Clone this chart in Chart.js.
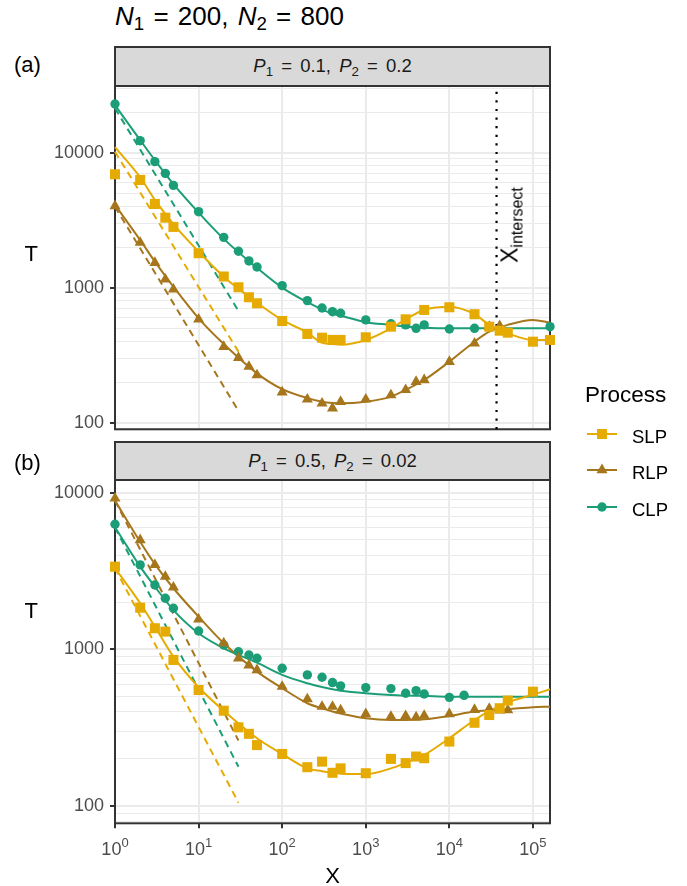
<!DOCTYPE html>
<html>
<head>
<meta charset="utf-8">
<script src="https://cdn.jsdelivr.net/npm/chart.js@4.4.1/dist/chart.umd.min.js"></script>
<style>
html,body{margin:0;padding:0;background:#fff;}
body{position:relative;width:687px;height:886px;overflow:hidden;font-family:"Liberation Sans",Arial,Helvetica,sans-serif;color:#000;}
.t{position:absolute;white-space:nowrap;line-height:1;}
.t sub{font-size:0.72em;vertical-align:-0.28em;line-height:0;}
.strip{position:absolute;left:114px;width:437px;box-sizing:border-box;border:2px solid #333;background:#D9D9D9;display:flex;align-items:center;justify-content:center;font-size:18.5px;color:#1A1A1A;line-height:1;white-space:nowrap;word-spacing:3px;}
.strip sub{font-size:0.72em;vertical-align:-0.28em;line-height:0;}
.cw{position:absolute;left:0;width:687px;}
.xt{position:absolute;top:840px;transform:translateX(-50%);font-size:18px;color:#4D4D4D;line-height:1;white-space:nowrap;}
.xt sup{font-size:13px;vertical-align:8px;line-height:0;}
.key{position:absolute;left:586px;}
.lab{position:absolute;left:632px;font-size:18.5px;line-height:1;}
</style>
</head>
<body>
<div class="cw" style="top:80px;height:360px;"><canvas id="cA" width="687" height="360"></canvas></div>
<div class="cw" style="top:470px;height:416px;"><canvas id="cB" width="687" height="416"></canvas></div>

<div class="t" style="left:115px;top:2.5px;font-size:26px;word-spacing:2px;"><i>N</i><sub>1</sub> = 200, <i>N</i><sub>2</sub> = 800</div>
<div class="t" style="left:14px;top:54px;font-size:22px;">(a)</div>
<div class="t" style="left:14px;top:452px;font-size:22px;">(b)</div>
<div class="strip" style="top:46px;height:41px;"><span><i>P</i><sub>1</sub> = 0.1, <i>P</i><sub>2</sub> = 0.2</span></div>
<div class="strip" style="top:441px;height:40px;"><span><i>P</i><sub>1</sub> = 0.5, <i>P</i><sub>2</sub> = 0.02</span></div>
<div class="t" style="left:24.5px;top:243px;font-size:22px;">T</div>
<div class="t" style="left:24.5px;top:600px;font-size:22px;">T</div>
<div class="t" style="left:332.5px;top:865.4px;font-size:22px;transform:translateX(-50%);">X</div>
<div class="t" id="xint" style="left:510.4px;top:224.5px;font-size:23px;transform:translate(-50%,-50%) rotate(-90deg);">X<sub style="font-size:16px;vertical-align:-5px;">intersect</sub></div>

<div class="t" style="left:585px;top:384.3px;font-size:22.5px;">Process</div>
<svg class="key" style="top:426px;" width="32" height="16"><line x1="1" y1="8" x2="31" y2="8" stroke="#E6AB02" stroke-width="2"/><rect x="11" y="3" width="10" height="10" fill="#E6AB02"/></svg>
<svg class="key" style="top:462px;" width="32" height="16"><line x1="1" y1="8" x2="31" y2="8" stroke="#A6761D" stroke-width="2"/><polygon points="16,1.6 21.5,11.2 10.5,11.2" fill="#A6761D"/></svg>
<svg class="key" style="top:498.7px;" width="32" height="16"><line x1="1" y1="8" x2="31" y2="8" stroke="#1B9E77" stroke-width="2"/><circle cx="16" cy="8" r="4.7" fill="#1B9E77"/></svg>
<div class="lab" style="top:428.3px;">SLP</div>
<div class="lab" style="top:464.3px;">RLP</div>
<div class="lab" style="top:501px;">CLP</div>

<script>
// ---------- data ----------
const SERIES = ['SLP', 'RLP', 'CLP'];
const COLOR = { SLP: '#E6AB02', RLP: '#A6761D', CLP: '#1B9E77' };

// axis limits and ticks
const X_MIN = 1, X_MAX = 160000;
const A_YMIN = 89.3, A_YMAX = 31190;
const B_YMIN = 77.6, B_YMAX = 12050;
const X_TICKS = [1, 10, 100, 1000, 10000, 100000];
const X_TICK_EXP = ['0', '1', '2', '3', '4', '5'];
const Y_TICKS = [80, 90, 100, 200, 300, 400, 500, 600, 700, 800, 900, 1000, 2000, 3000, 4000, 5000, 6000, 7000, 8000, 9000, 10000, 20000, 30000];
const Y_LABELED = [100, 1000, 10000];
const X_INTERSECT = 36700;

// panel (a): P1 = 0.1, P2 = 0.2 — simulated points
const A_SLP_X = [1,2,3,4,5,10,20,30,40,50,100,200,300,400,500,1000,2000,3000,5000,10000,20000,30000,40000,50000,100000,160000];
const A_SLP_T = [6920,6280,4170,3300,2820,1800,1210,1007,849,766,566,454,426,410,410,429,514,583,684,716,636,514,480,464,398,410];
const A_RLP_X = [1,2,3,4,5,10,20,30,40,50,100,200,300,400,500,1000,2000,3000,4000,5000,10000,20000,30000,40000];
const A_RLP_T = [4030,2155,1530,1153,973,583,365,303,260,225,168,149,139,128,143,149,160,175,201,207,283,387,514,520];
const A_CLP_X = [1,2,3,4,5,10,20,30,40,50,100,200,300,400,500,1000,2000,3000,4000,5000,10000,20000,160000];
const A_CLP_T = [22960,12270,8580,7030,5730,3656,2360,1862,1578,1423,1035,802,707,664,646,577,540,530,500,530,494,500,514];

// panel (b): P1 = 0.5, P2 = 0.02 — simulated points
const B_SLP_X = [1,2,3,4,5,10,20,30,40,50,100,200,300,400,500,1000,2000,3000,4000,5000,10000,20000,30000,40000,50000,100000];
const B_SLP_T = [3370,1845,1364,1298,856,550,406,318,289,245,215,177,192,163,174,162,200,188,207,202,258,340,381,421,471,537];
const B_RLP_X = [1,2,3,4,5,10,20,30,40,50,100,200,300,400,500,1000,2000,3000,4000,5000,10000,20000,30000,40000,50000];
const B_RLP_T = [9210,4990,3460,2914,2490,1556,1094,878,792,739,578,481,431,431,410,387,372,376,369,378,387,412,418,408,410];
const B_CLP_X = [1,2,3,4,5,10,20,30,40,50,100,200,300,400,500,1000,2000,3000,4000,5000,10000,15000];
const B_CLP_T = [6290,3460,2576,2118,1829,1309,1066,966,920,877,757,687,664,614,585,570,562,525,545,519,494,509];

// smooth fitted curves
const FIT_X = [1,2,3,5,10,20,50,100,200,300,400,500,1000,2000,3000,5000,10000,20000,30000,50000,100000,160000];
const A_SLP_FIT = [11000,6580,4470,2960,1850,1206,774,577,464,390,383,378,410,500,583,684,722,636,530,459,410,410];
const A_RLP_FIT = [4100,2254,1560,1016,593,383,232,177,152,143,140,139,143,156,175,207,283,398,472,530,577,551];
const A_CLP_FIT = [22500,12400,8800,5850,3600,2300,1400,1000,780,690,640,620,555,530,515,505,500,500,500,500,500,500];
const B_SLP_FIT = [3300,1968,1397,898,573,406,271,215,174,167,163,161,160,174,189,212,271,354,403,459,514,556];
const B_RLP_FIT = [8900,4860,3500,2455,1618,1094,721,565,453,420,401,390,363,354,354,358,376,401,408,415,427,431];
const B_CLP_FIT = [6020,3376,2513,1782,1267,1016,822,687,608,575,556,545,525,512,508,505,499,499,499,499,499,499];

// dashed short-X asymptotes
const DASH_X = [1, 30];
const A_SLP_DASH = [10170, 336];
const A_RLP_DASH = [3980, 122];
const A_CLP_DASH = [21300, 671];
const B_SLP_DASH = [3300, 105];
const B_RLP_DASH = [8900, 262];
const B_CLP_DASH = [6000, 178];

// ---------- styling / chart building ----------
const STYLE = { SLP: { shape: 'rect', r: 7.1 }, RLP: { shape: 'triangle', r: 6.4 }, CLP: { shape: 'circle', r: 4.7 } };

Chart.defaults.font.family = '"Liberation Sans", Arial, sans-serif';

function xy(xs, ys) { return xs.map((x, i) => ({ x: x, y: ys[i] })); }
function pts(xs, ys, key) {
  const s = STYLE[key];
  return { label: key, data: xy(xs, ys), showLine: false, pointStyle: s.shape,
    pointRadius: s.r, pointHoverRadius: s.r, backgroundColor: COLOR[key], borderColor: COLOR[key],
    pointBackgroundColor: COLOR[key], pointBorderColor: COLOR[key], pointBorderWidth: 0, clip: false, order: 0 };
}
function curve(xs, ys, key, dash, order) {
  return { label: key, data: xy(xs, ys), showLine: true, borderColor: COLOR[key], backgroundColor: COLOR[key],
    borderWidth: 2, borderDash: dash, pointRadius: 0, pointHoverRadius: 0, cubicInterpolationMode: 'monotone',
    fill: false, clip: false, order: order };
}
function vline(x, y0, y1) {
  return { label: 'Xintersect', data: [{ x: x, y: y0 }, { x: x, y: y1 }], showLine: true, borderColor: '#000',
    borderWidth: 2.2, borderDash: [2.2, 6.4], borderCapStyle: 'butt', pointRadius: 0, pointHoverRadius: 0,
    fill: false, clip: false, order: 3 };
}

const frame = {
  id: 'frame',
  beforeDatasetsDraw(chart) {
    const a = chart.chartArea, ctx = chart.ctx;
    ctx.save();
    ctx.strokeStyle = '#333333';
    ctx.lineWidth = 2;
    ctx.strokeRect(a.left, a.top, a.right - a.left, a.bottom - a.top);
    ctx.restore();
  }
};

const isMajorY = v => Y_LABELED.indexOf(v) >= 0;

function options(yMin, yMax, bottom) {
  return {
    responsive: false, animation: false, devicePixelRatio: 1, events: [],
    layout: { autoPadding: false, padding: bottom ? { top: 10, right: 137, bottom: 0, left: 0 } : { top: 6, right: 137, bottom: 10.7, left: 0 } },
    plugins: { legend: { display: false }, tooltip: { enabled: false } },
    scales: {
      x: {
        type: 'logarithmic', min: X_MIN, max: X_MAX, bounds: 'data',
        afterBuildTicks: s => { s.ticks = X_TICKS.map(v => ({ value: v, major: true })); },
        afterFit: s => { s.height = bottom ? 62.7 : 0; s.paddingLeft = 0; s.paddingRight = 0; },
        ticks: { display: false, autoSkip: false },
        grid: { color: '#EBEBEB', lineWidth: 2, drawTicks: bottom, tickLength: 5, tickColor: '#333333', tickWidth: 2 },
        border: { display: false }
      },
      y: {
        type: 'logarithmic', min: yMin, max: yMax, bounds: 'data',
        afterBuildTicks: s => { s.ticks = Y_TICKS.filter(v => v >= s.min && v <= s.max).map(v => ({ value: v, major: isMajorY(v) })); },
        afterFit: s => { s.width = 115; s.paddingTop = 0; s.paddingBottom = 0; },
        ticks: { autoSkip: false, padding: 6, color: '#4D4D4D', font: { size: 18 },
          callback: v => isMajorY(v) ? String(v) : '' },
        grid: { color: '#EBEBEB',
          lineWidth: c => (c.tick && isMajorY(c.tick.value)) ? 2 : 1,
          tickLength: 5, tickWidth: 2,
          tickColor: c => (c.tick && isMajorY(c.tick.value)) ? '#333333' : 'rgba(0,0,0,0)' },
        border: { display: false }
      }
    }
  };
}

const datasetsA = [
  pts(A_SLP_X, A_SLP_T, 'SLP'), pts(A_RLP_X, A_RLP_T, 'RLP'), pts(A_CLP_X, A_CLP_T, 'CLP'),
  curve(FIT_X, A_SLP_FIT, 'SLP', [], 1), curve(FIT_X, A_RLP_FIT, 'RLP', [], 1), curve(FIT_X, A_CLP_FIT, 'CLP', [], 1),
  curve(DASH_X, A_SLP_DASH, 'SLP', [7, 5], 2), curve(DASH_X, A_RLP_DASH, 'RLP', [7, 5], 2), curve(DASH_X, A_CLP_DASH, 'CLP', [7, 5], 2),
  vline(X_INTERSECT, A_YMIN, A_YMAX)
];
const datasetsB = [
  pts(B_SLP_X, B_SLP_T, 'SLP'), pts(B_RLP_X, B_RLP_T, 'RLP'), pts(B_CLP_X, B_CLP_T, 'CLP'),
  curve(FIT_X, B_SLP_FIT, 'SLP', [], 1), curve(FIT_X, B_RLP_FIT, 'RLP', [], 1), curve(FIT_X, B_CLP_FIT, 'CLP', [], 1),
  curve(DASH_X, B_SLP_DASH, 'SLP', [7, 5], 2), curve(DASH_X, B_RLP_DASH, 'RLP', [7, 5], 2), curve(DASH_X, B_CLP_DASH, 'CLP', [7, 5], 2)
];

const chartA = new Chart(document.getElementById('cA'), { type: 'scatter', data: { datasets: datasetsA }, options: options(A_YMIN, A_YMAX, false), plugins: [frame] });
const chartB = new Chart(document.getElementById('cB'), { type: 'scatter', data: { datasets: datasetsB }, options: options(B_YMIN, B_YMAX, true), plugins: [frame] });

// x tick labels with real superscripts, positioned by the chart's own x scale
X_TICKS.forEach((v, i) => {
  const d = document.createElement('div');
  d.className = 'xt';
  d.style.left = chartB.scales.x.getPixelForValue(v) + 'px';
  d.innerHTML = '10<sup>' + X_TICK_EXP[i] + '</sup>';
  document.body.appendChild(d);
});
</script>
</body>
</html>
